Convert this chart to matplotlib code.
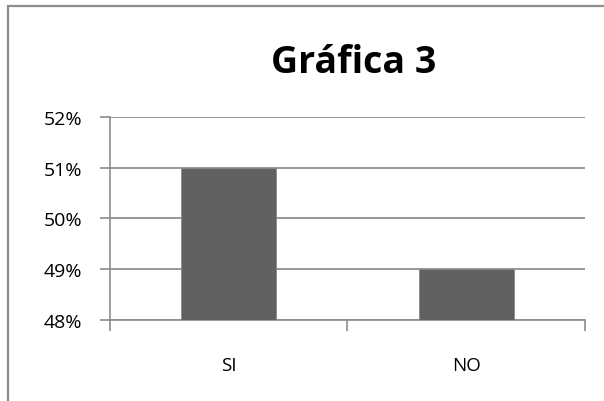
import matplotlib.pyplot as plt
from matplotlib.patches import Rectangle
from matplotlib.ticker import FuncFormatter

# data
categories = ['SI', 'NO']
values = [51, 49]
y_ticks = [48, 49, 50, 51, 52]

plt.rcParams['font.family'] = ['Open Sans', 'DejaVu Sans']

fig = plt.figure(figsize=(6.04, 4.02), dpi=100)
ax = fig.add_axes([0.182, 0.2015, 0.7865, 0.505])

# outer chart frame (right and bottom fall off the picture)
fig.patches.append(Rectangle((8 / 604, -0.1), 1.0, (402 - 7) / 402 + 0.1,
                             transform=fig.transFigure, fill=False,
                             edgecolor='#8c8c8c', linewidth=1.6))

x = range(len(categories))
ax.bar(x, values, width=0.4, color='#616161', edgecolor='#8a8a8a',
       linewidth=0.6, zorder=3)

ax.set_xlim(-0.5, 1.5)
ax.set_ylim(48, 52)
ax.set_yticks(y_ticks)
ax.yaxis.set_major_formatter(FuncFormatter(lambda v, p: f'{v:.0f}%'))
ax.set_xticks([-0.5, 0.5, 1.5], minor=False)
ax.set_xticklabels(['', '', ''])
ax.set_xticks(list(x), minor=True)
ax.set_xticklabels(categories, minor=True)

ax.grid(axis='y', color='#868686', linewidth=1.2, zorder=0)
for side in ['top', 'right']:
    ax.spines[side].set_visible(False)
for side in ['left', 'bottom']:
    ax.spines[side].set_color('#8c8c8c')
    ax.spines[side].set_linewidth(1.2)

ax.tick_params(axis='y', length=7, color='#8c8c8c', width=1.2,
               labelsize=14, pad=13)
ax.tick_params(axis='x', which='major', length=8, color='#8c8c8c', width=1.2)
ax.tick_params(axis='x', which='minor', length=0, labelsize=13.5, pad=26)

fig.text(354 / 604, 1 - 73 / 402, 'Gráfica 3', ha='center', va='baseline',
         fontsize=27, fontweight='bold')

fig.savefig('out.png', dpi=100)
